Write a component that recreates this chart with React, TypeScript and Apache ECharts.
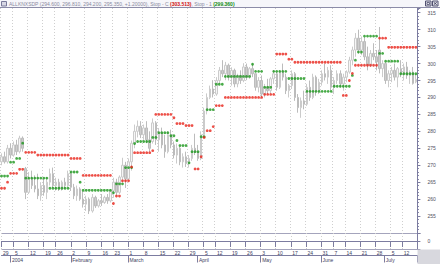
import React, { useEffect, useRef } from "react";
import * as echarts from "echarts";

// ---- calendar (trading days) ----
const holidays = ["2004-01-01", "2004-01-19", "2004-02-16", "2004-04-09", "2004-05-31", "2004-06-11", "2004-07-05"];
function buildDays(): string[] {
  const out: string[] = [];
  for (let t = Date.UTC(2003, 11, 29); t <= Date.UTC(2004, 6, 16); t += 86400000) {
    const d = new Date(t);
    const wd = d.getUTCDay();
    const s = d.toISOString().slice(0, 10);
    if (wd === 0 || wd === 6 || holidays.includes(s)) continue;
    out.push(s);
  }
  return out;
}
const days = buildDays();

// ---- tick labels ----
const weekLabels = ["29", "5", "12", "19", "26", "2", "9", "16", "23", "1", "8", "15", "22", "29", "5", "12", "19", "26", "3", "10", "17", "24", "31", "7", "14", "21", "28", "5", "12"];
const monthLabels = ["2004", "February", "March", "April", "May", "June", "July"];
const yTickMin = 255;
const yTickMax = 315;

// ---- price bars ----
const opens = [271, 272.5, 271, 275, 273, 276, 274, 278, 269, 262, 266, 264, 263, 261, 264, 262, 265, 267.5, 264, 265, 263, 265, 264, 267.5, 263.5, 261, 263, 260, 258.5, 260, 256.5, 260.5, 258, 259.5, 259, 260.5, 259.5, 262.5, 265, 262, 266.5, 270, 266, 271, 276.5, 280, 281.5, 279, 281, 277.5, 277, 282.5, 277.5, 279.5, 276, 274, 279, 276, 273, 275, 271, 272.5, 270.5, 272, 275, 274, 272, 279, 286, 290, 292.5, 291, 295, 298, 297, 299.5, 296, 298, 294, 296.5, 295, 299, 296, 298.5, 297, 293, 295, 291, 293, 292, 295.5, 297, 293, 297.5, 296, 292, 293.5, 297, 290, 287, 289, 288, 293, 290, 296, 292, 294.5, 297, 296, 298, 293, 295, 297, 294, 296, 297.5, 301, 304, 307.5, 304, 306.5, 302, 299.5, 303, 302, 304, 298.5, 300, 295, 297, 298, 296, 298.5, 297, 299, 296.5, 297.5, 294.6];
const closes = [272.5, 271, 275, 273, 276, 274, 278, 275, 262, 266, 264, 263, 261, 264, 262, 265, 267.5, 264, 265, 263, 265, 264, 267.5, 263.5, 261, 263, 260, 258.5, 260, 256.5, 260.5, 258, 259.5, 259, 260.5, 259.5, 262.5, 265, 262, 266.5, 270, 266, 271, 276.5, 280, 281.5, 279, 281, 277.5, 275, 282.5, 277.5, 279.5, 276, 274, 279, 276, 273, 275, 271, 272.5, 270.5, 272, 275, 274, 272, 279, 286, 290, 292.5, 291, 295, 298, 297, 299.5, 296, 298, 294, 296.5, 295, 299, 296, 298.5, 297, 293, 295, 291, 293, 292, 295.5, 297, 293, 297.5, 296, 292, 293.5, 297, 290, 287, 289, 288, 293, 290, 296, 292, 294.5, 297, 296, 298, 293, 295, 297, 294, 296, 297.5, 301, 304, 307.5, 304, 306.5, 302, 299.5, 303, 302, 300.5, 298.5, 300, 295, 297, 298, 296, 298.5, 297, 299, 296.5, 297.5, 294.15, 295.35];
const lows = [270, 270.5, 270.5, 272, 272.5, 273, 273.5, 274, 260, 261.5, 263, 262, 260, 259.5, 261, 260, 264, 263.3, 262.5, 262.4, 262.5, 263, 263.5, 262.4, 260, 259.5, 259.5, 257.5, 256.5, 255.6, 256, 257.4, 257.5, 258, 258.6, 258.6, 259, 260.4, 261, 261.5, 265, 263.3, 265.5, 268.4, 275, 278.2, 278, 277.5, 276.5, 274, 276.4, 276, 274, 275, 272.2, 273.5, 275, 272, 270.5, 270, 269.3, 269.5, 269.3, 271.3, 273, 271.3, 271.5, 278.2, 285, 289.5, 290, 290.5, 294, 296, 295.1, 295, 293.5, 293, 293, 294, 294.5, 295.1, 295.5, 296, 292, 291.5, 290, 290, 291, 291.2, 294, 292, 292.5, 295, 291, 290, 292.5, 289, 285.5, 284, 286.5, 287.5, 289, 289.5, 290.5, 291, 293.5, 295, 294, 292, 291, 294, 293, 292, 294.5, 297, 299.5, 302, 303, 302.5, 301, 298, 299, 301, 298, 297.1, 296, 294, 293, 294.5, 295, 293, 296, 295, 295.5, 294, 293.8, 294.2];
const highs = [273.5, 274, 276, 276.5, 277, 277.5, 278.7, 278.5, 269.5, 268, 268.4, 267, 267.5, 265, 266, 266.5, 269, 269.3, 266.3, 266, 265.5, 266.3, 268.4, 268, 264.5, 264, 263.5, 262.4, 261, 260.5, 261.5, 261, 260, 261.5, 261, 261.5, 263, 266.3, 266, 267, 272.2, 271, 272, 277.3, 282, 283.2, 283, 282, 283, 280, 283.8, 283, 281, 281.1, 279, 280, 280.5, 277, 276.4, 275.5, 273.5, 274, 273, 276, 279.3, 276, 280, 287, 291.2, 293.5, 295.1, 296, 299, 301, 300.5, 300, 298.9, 298.5, 297, 298, 300.1, 300, 299, 300, 297.1, 296, 296.5, 294, 295.5, 296, 298, 297.5, 298, 300, 297, 294, 298, 297.5, 291, 290, 292, 294, 295, 297, 296.5, 295.5, 298, 300, 299, 299.5, 296, 298, 298, 297, 298, 302, 305, 309, 310, 308, 307.8, 305, 304, 306, 304, 310.8, 301, 300.5, 298, 299, 300, 299, 301, 300, 300.5, 298, 299, 296.81];

// ---- stops ----
const stopC = [263.2, 263.2, 265, 267.6, 267.6, 267.6, 268.8, 268.8, 273.8, 273.8, 273.8, 273.8, 273, 273, 273, 273, 273, 273, 273, 273, 273, 273, 273, 272, 272, 272, 272, 267, 267, 267, 267, 267, 267, 267, 267, 267, 267, 258.7, 260.9, 260.9, 265.4, 265.4, 265.4, 269.5, 273.7, 273.7, 273.7, 273.7, 273.7, 273.7, 274.3, 285, 285, 285, 285, 285, 285, 284, 282.3, 282.3, 282.3, 281.7, 281.7, 281.7, 268.9, 268.9, 272.5, 278.2, 280.2, 280.2, 281.4, 287.6, 287.6, 287.6, 290, 290, 290, 290, 290, 290, 290, 290, 290, 290, 290, 290, 290, 290.9, 290.9, 290.9, 290.9, 302.8, 302.8, 302.8, 302.8, 301.3, 301.3, 300.4, 300.4, 300.4, 300.4, 300.4, 300.4, 300.4, 300.4, 300.4, 300.4, 300.4, 300.4, 300.4, 300.4, 300.4, 300.4, 290.6, 290.6, 295, 297.1, 299.5, 299.5, 299.5, 299.5, 299.5, 299.5, 299.5, 299.5, 307.5, 307.5, 307.5, 304.8, 304.8, 304.8, 304.8, 304.8, 304.8, 304.8, 304.8, 304.8, 304.8];
const stop1 = [266.8, 266.8, 266.8, 270.9, 270.9, 272, 272, 276.5, 266.2, 266.2, 266.2, 266.2, 266.2, 266.2, 266.2, 266.2, 263.2, 263.2, 263.2, 263.2, 263.2, 263.2, 263.2, 268, 268, 268, 265, 262.6, 262.6, 262.6, 262.6, 262.6, 262.6, 262.6, 262.6, 262.6, 262.6, 261.9, 264.5, 264.5, 264.5, 269.3, 269.3, 269.3, 276.4, 277, 277, 277, 277, 277, 278.2, 278.2, 279.6, 279.6, 279.6, 279.6, 278.7, 278.7, 277.3, 275.8, 275.8, 275.8, 270.7, 274, 274, 274, 278.4, 278.4, 286.4, 286.4, 286.4, 293.9, 293.9, 293.9, 296.2, 296.2, 296.2, 296.2, 296.2, 296.2, 296.2, 296.2, 296.2, 299.8, 297.7, 297.7, 297.7, 293, 293, 293, 297.7, 297.7, 297.7, 297.7, 297.7, 295.6, 295.6, 295.6, 295.6, 295.6, 295.6, 291.8, 291.8, 291.8, 291.8, 291.8, 291.8, 291.8, 291.8, 291.8, 293.3, 293.3, 293.3, 293.3, 293.3, 293.3, 296.5, 301, 303.4, 303.4, 308.1, 308.1, 308.1, 308.1, 308.1, 303, 303, 300.7, 300.7, 300.7, 300.7, 300.7, 297, 297, 297, 297, 297, 297];

const titleSymbol = "ALLKNXSDP";
const titleQuote = "(294.600, 296.810, 294.200, 295.350, +1.20000)";
const titleStopC = "(303.513)";
const titleStop1 = "(299.360)";

// ---- derived tick maps ----
const weekMap = new Map<number, string>();
const monthMap = new Map<number, string>();
{
  let w = 0;
  let m = 0;
  days.forEach((d, i) => {
    const wd = new Date(d + "T00:00:00Z").getUTCDay();
    const prevWd = i > 0 ? new Date(days[i - 1] + "T00:00:00Z").getUTCDay() : 99;
    if (i === 0 || wd <= prevWd) {
      if (w < weekLabels.length) weekMap.set(i, weekLabels[w]);
      w++;
    }
    if (i > 0 && d.slice(5, 7) !== days[i - 1].slice(5, 7)) {
      if (m < monthLabels.length) monthMap.set(i, monthLabels[m]);
      m++;
    }
  });
}
const isWeek = (i: number) => weekMap.has(i);
const isMonth = (i: number) => monthMap.has(i);

const FONT = "Liberation Sans";
const AXIS_COL = "#7c7ca0";
const GRID_LEFT = -2.16;
const GRID_W = 419.56;

export default function App() {
  const ref = useRef<HTMLDivElement>(null);
  useEffect(() => {
    const chart = echarts.init(ref.current!, null, { renderer: "svg" });
    const candles = days.map((_, i) => [opens[i], closes[i], lows[i], highs[i]]);
    const dotted = { color: "#cfcfcf", type: [1, 2] as any, width: 1 };
    chart.setOption({
      animation: false,
      backgroundColor: "#ffffff",
      textStyle: { fontFamily: FONT },
      grid: [
        { left: GRID_LEFT, top: 8, width: GRID_W, height: 225 },
        { left: GRID_LEFT, top: 233, width: GRID_W, height: 16 },
      ],
      xAxis: [
        {
          gridIndex: 0, type: "category", data: days, boundaryGap: true,
          axisLine: { show: false }, axisTick: { show: false }, axisLabel: { show: false },
          splitLine: { show: true, interval: (i: number) => isWeek(i), lineStyle: dotted },
        },
        {
          gridIndex: 1, type: "category", data: days, boundaryGap: true, position: "bottom",
          axisLine: { show: true, lineStyle: { color: AXIS_COL, width: 1 } },
          axisTick: { show: true, interval: (i: number) => isWeek(i), length: 6, lineStyle: { color: AXIS_COL } },
          axisLabel: {
            interval: (i: number) => isWeek(i), formatter: (_v: string, i: number) => weekMap.get(i) ?? "",
            align: "left", fontSize: 5, color: "#404060", margin: 1.5, fontFamily: FONT,
          },
          splitLine: { show: true, interval: (i: number) => isWeek(i), lineStyle: dotted },
        },
        {
          gridIndex: 1, type: "category", data: days, boundaryGap: true, position: "bottom", offset: 6.5,
          axisLine: { show: true, lineStyle: { color: AXIS_COL, width: 1 } },
          axisTick: { show: true, interval: (i: number) => isMonth(i), length: 7, lineStyle: { color: AXIS_COL } },
          axisLabel: {
            interval: (i: number) => isMonth(i), formatter: (_v: string, i: number) => monthMap.get(i) ?? "",
            align: "left", fontSize: 5, color: "#404060", margin: 1.5, fontFamily: FONT,
          },
          splitLine: { show: false },
        },
      ],
      yAxis: [
        {
          gridIndex: 0, type: "value", position: "right", min: 250, max: 316.4, interval: 5,
          axisLine: { show: true, lineStyle: { color: AXIS_COL } },
          axisTick: { show: true, length: 3, lineStyle: { color: AXIS_COL } },
          minorTick: { show: true, splitNumber: 5, length: 1.5, lineStyle: { color: AXIS_COL } },
          axisLabel: {
            formatter: (v: number) => (v >= yTickMin && v <= yTickMax ? String(v) : ""),
            fontSize: 5, color: "#505060", margin: 10, fontFamily: FONT,
          },
          splitLine: { show: false },
        },
        {
          gridIndex: 1, type: "value", position: "right", min: -1, max: 1, interval: 1,
          axisLine: { show: true, lineStyle: { color: AXIS_COL } },
          axisTick: { show: true, length: 3, lineStyle: { color: AXIS_COL } },
          axisLabel: { formatter: (v: number) => (v === 0 ? "0" : ""), fontSize: 5, color: "#505060", margin: 10, fontFamily: FONT },
          splitLine: { show: true, lineStyle: { color: "#a4a4bc", width: 1 } },
        },
      ],
      series: [
        {
          type: "candlestick", xAxisIndex: 0, yAxisIndex: 0, data: candles, barWidth: 2,
          itemStyle: { color: "#f6f6f6", color0: "#cdcdcd", borderColor: "#cbcbcb", borderColor0: "#bcbcbc", borderWidth: 1 },
        },
        {
          type: "scatter", xAxisIndex: 0, yAxisIndex: 0, data: stop1, symbol: "circle", symbolSize: 2.8,
          itemStyle: { color: "#1a961a" }, z: 5,
        },
        {
          type: "scatter", xAxisIndex: 0, yAxisIndex: 0, data: stopC, symbol: "circle", symbolSize: 2.8,
          itemStyle: { color: "#e8241a" }, z: 5,
        },
      ],
      graphic: [
        { type: "rect", shape: { x: 0, y: 0, width: 440, height: 7.5 }, style: { fill: "#f6f6fa" }, z: 10 },
        { type: "line", shape: { x1: 0, y1: 7.5, x2: 440, y2: 7.5 }, style: { stroke: "#8c8ca8", lineWidth: 1 }, z: 10 },
        { type: "rect", shape: { x: 1.5, y: 1.5, width: 5, height: 4.5 }, style: { fill: "#d8d8e4", stroke: "#7a7a9a", lineWidth: 1 }, z: 11 },
        {
          type: "text", x: 9, y: 1, z: 11,
          style: {
            text: `{g|${titleSymbol} ${titleQuote}, Stop - C }{r|${titleStopC}}{g|, Stop - 1 }{n|${titleStop1}}`,
            fontFamily: FONT, fontSize: 5,
            rich: {
              g: { fill: "#8a8aa0", fontSize: 5, fontFamily: FONT },
              r: { fill: "#d01010", fontSize: 5, fontWeight: "bold", fontFamily: FONT },
              n: { fill: "#108a10", fontSize: 5, fontWeight: "bold", fontFamily: FONT },
            },
          } as any,
        },
        { type: "rect", shape: { x: 425.5, y: 1, width: 5.5, height: 5 }, style: { fill: "#e4e4ec", stroke: "#505070", lineWidth: 1 }, z: 11 },
        { type: "rect", shape: { x: 427, y: 2.5, width: 2.5, height: 2 }, style: { fill: "none", stroke: "#505070", lineWidth: 0.8 }, z: 12 },
        { type: "rect", shape: { x: 432.5, y: 1, width: 5.5, height: 5 }, style: { fill: "#e4e4ec", stroke: "#505070", lineWidth: 1 }, z: 11 },
        { type: "line", shape: { x1: 433.7, y1: 2.2, x2: 436.8, y2: 4.8 }, style: { stroke: "#303050", lineWidth: 0.8 }, z: 12 },
        { type: "line", shape: { x1: 436.8, y1: 2.2, x2: 433.7, y2: 4.8 }, style: { stroke: "#303050", lineWidth: 0.8 }, z: 12 },
        { type: "rect", shape: { x: 417.5, y: 249.5, width: 22.5, height: 14.5 }, style: { fill: "#d8d8de" }, z: 10 },
      ],
    });
    return () => chart.dispose();
  }, []);
  return <div ref={ref} style={{ position: "absolute", left: 0, top: 0, width: 440, height: 264 }} />;
}
